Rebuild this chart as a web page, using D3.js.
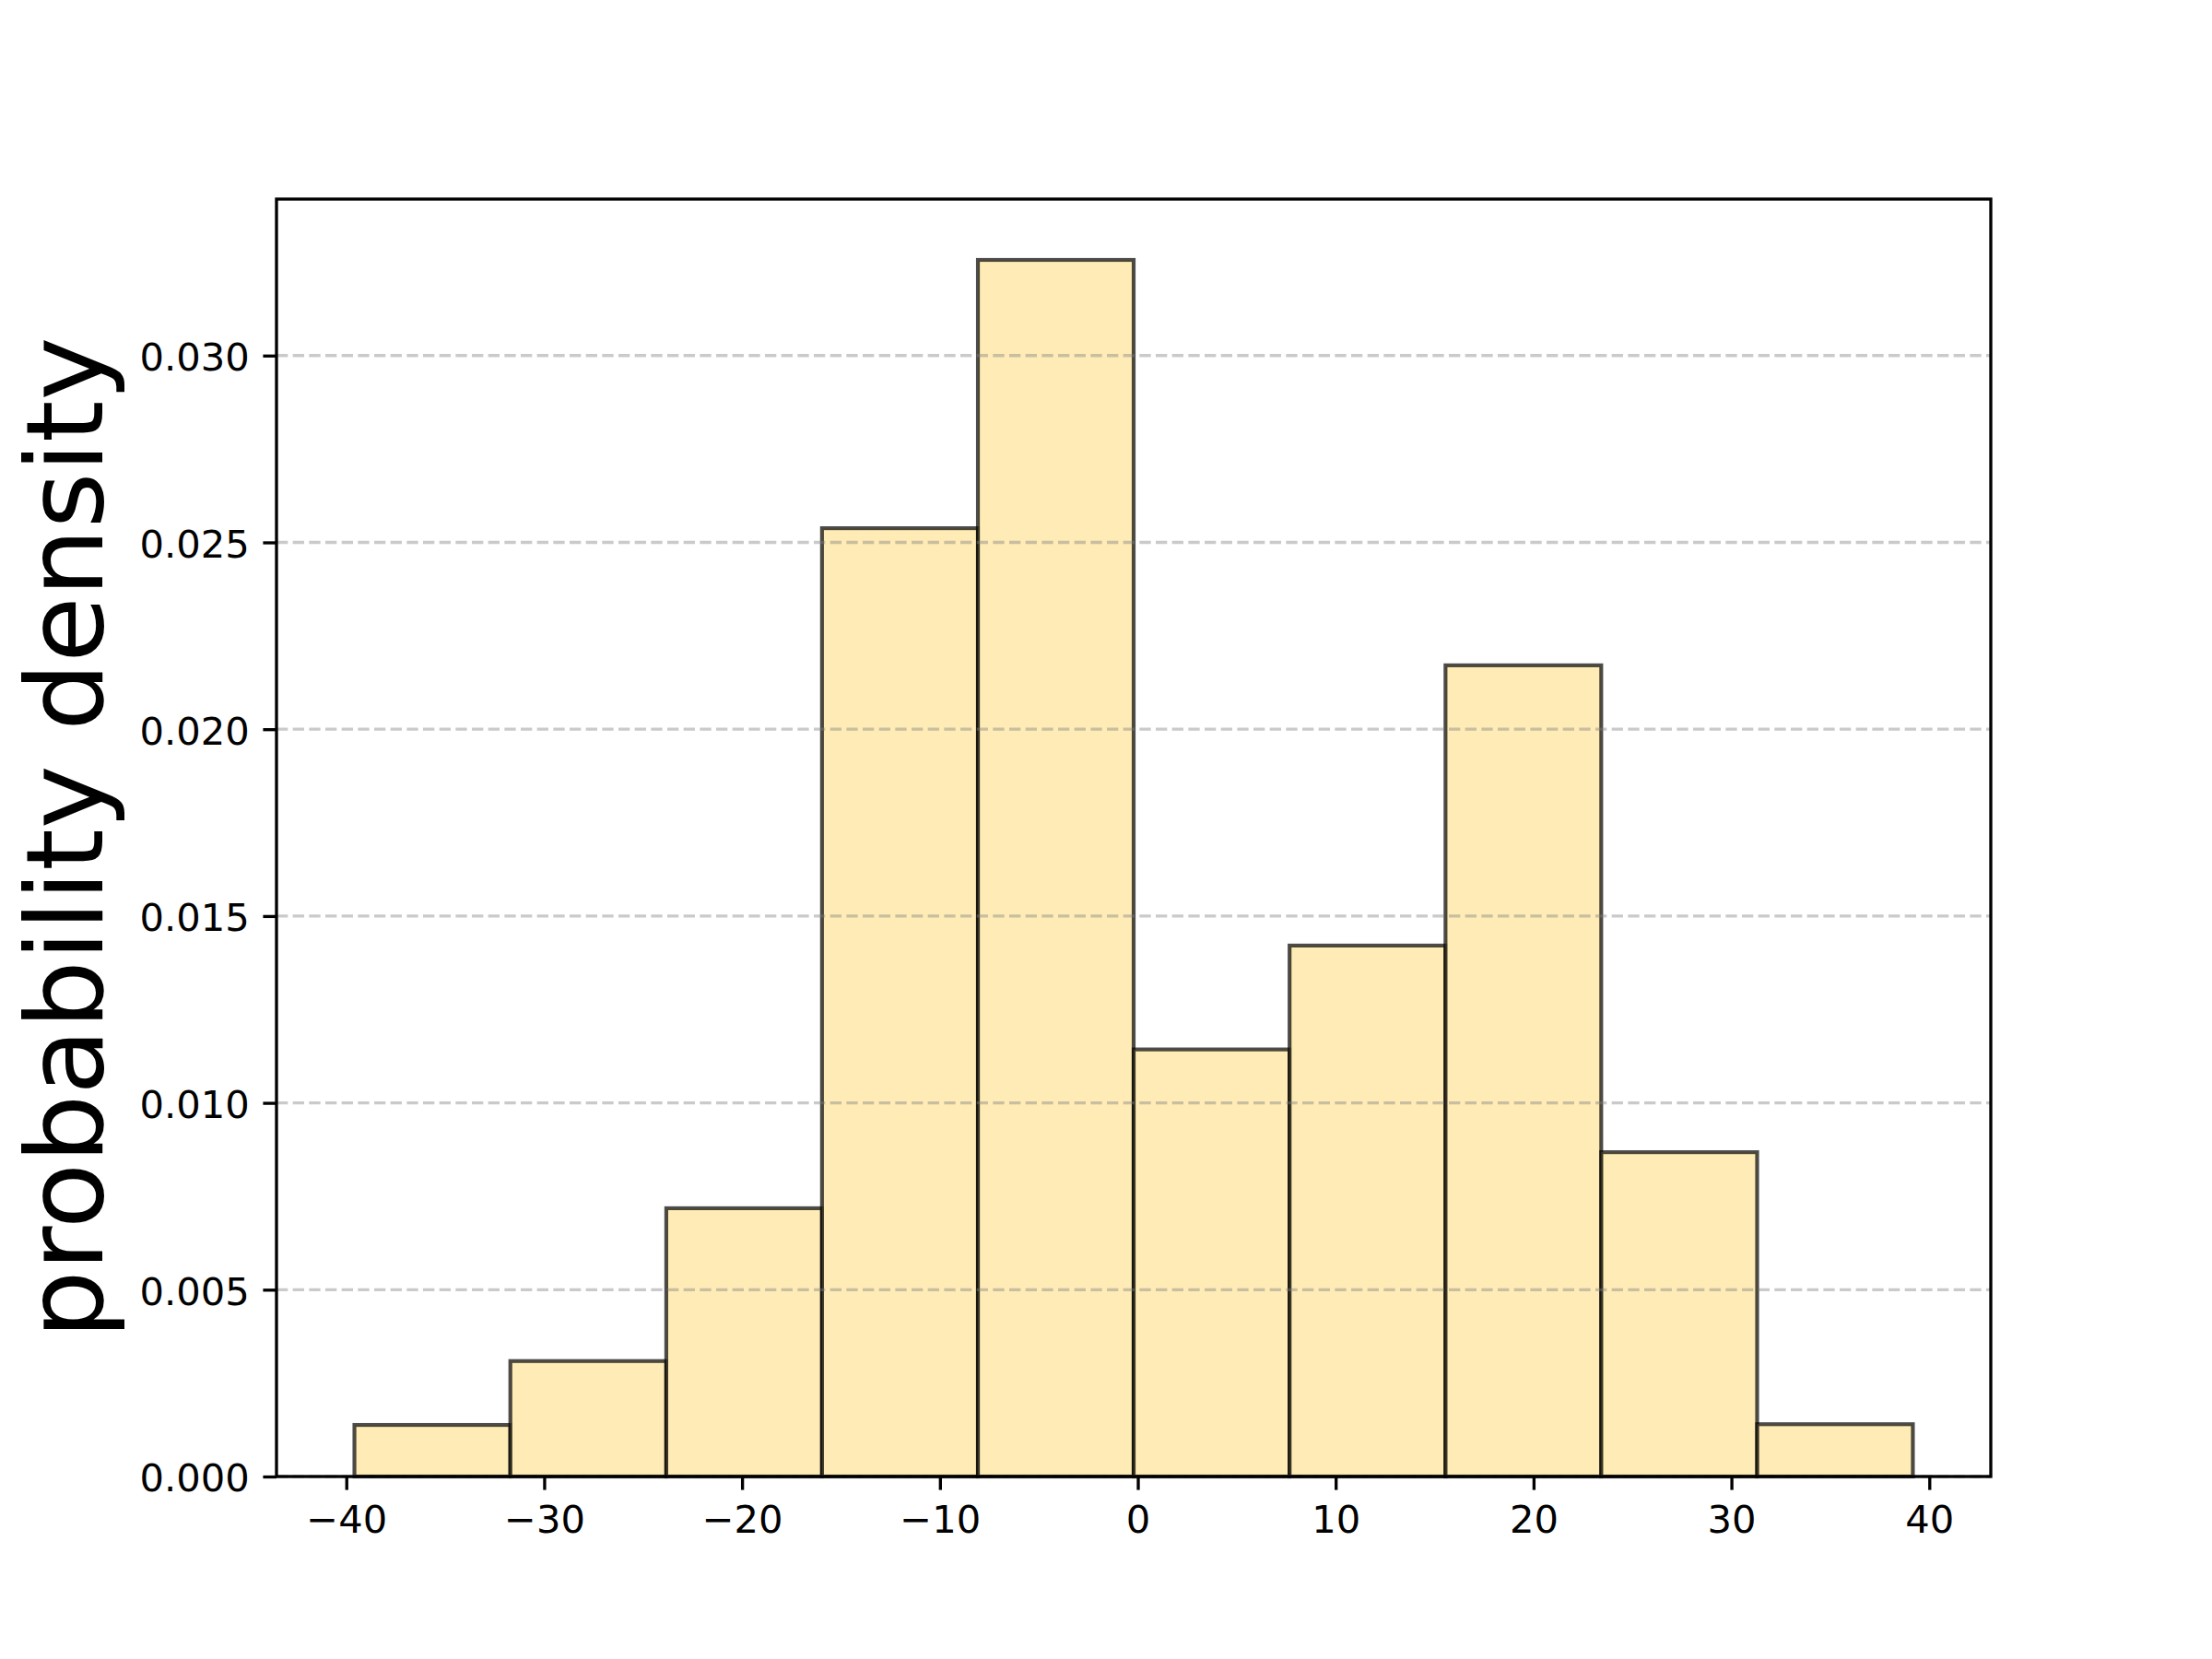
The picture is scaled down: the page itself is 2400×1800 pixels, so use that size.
<!DOCTYPE html>
<html>
<head>
<meta charset="utf-8">
<script src="https://cdn.jsdelivr.net/npm/d3@7"></script>
<style>
  body { margin: 0; background: #fff; }
  text { font-family: 'DejaVu Sans', sans-serif; }
</style>
</head>
<body>
<svg id="chart"></svg>
<script>
const width = 2400;
const height = 1800;

// histogram bins (edges) and densities
const binEdges = [-39.59, -31.71, -23.83, -15.96, -8.08, -0.21, 7.67, 15.55, 23.42, 31.30, 39.17];
const densities = [0.00138, 0.00309, 0.00718, 0.02538, 0.03256, 0.01143, 0.01421, 0.02171, 0.00868, 0.00140];

const xTicks = [-40, -30, -20, -10, 0, 10, 20, 30, 40];
const yTicks = [0.000, 0.005, 0.010, 0.015, 0.020, 0.025, 0.030];
const yLabel = "probability density";

const margin = { left: 300, right: 2160, top: 216, bottom: 1602 };
const pt = 300 / 72;

const bins = densities.map((d, i) => ({ x0: binEdges[i], x1: binEdges[i + 1], density: d }));

// matplotlib-like 5% margins
const lo = binEdges[0], hi = binEdges[binEdges.length - 1];
const pad = (hi - lo) * 0.05;
const x = d3.scaleLinear().domain([lo - pad, hi + pad]).range([margin.left, margin.right]);
const y = d3.scaleLinear().domain([0, d3.max(densities) * 1.05]).range([margin.bottom, margin.top]);

const svg = d3.select('#chart')
  .attr('width', width)
  .attr('height', height);

svg.append('rect')
  .attr('width', width)
  .attr('height', height)
  .attr('fill', 'white');

// bars
svg.append('g')
  .selectAll('rect')
  .data(bins)
  .enter().append('rect')
    .attr('x', d => x(d.x0))
    .attr('y', d => y(d.density))
    .attr('width', d => x(d.x1) - x(d.x0))
    .attr('height', d => y(0) - y(d.density))
    .attr('fill', '#fee295')
    .attr('fill-opacity', 0.7)
    .attr('stroke', 'black')
    .attr('stroke-opacity', 0.7)
    .attr('stroke-width', 1.0 * pt);

// horizontal dashed grid, above the bars like matplotlib
svg.append('g')
  .selectAll('line')
  .data(yTicks)
  .enter().append('line')
    .attr('x1', margin.left)
    .attr('x2', margin.right)
    .attr('y1', d => y(d))
    .attr('y2', d => y(d))
    .attr('stroke', '#808080')
    .attr('stroke-opacity', 0.42)
    .attr('stroke-width', 0.8 * pt)
    .attr('stroke-dasharray', `${3.7 * 0.8 * pt} ${1.6 * 0.8 * pt}`);

const fmtX = d => d < 0 ? '\u2212' + Math.abs(d) : String(d);

const xAxis = svg.append('g')
  .attr('transform', `translate(0,${margin.bottom})`)
  .call(d3.axisBottom(x).tickValues(xTicks).tickFormat(fmtX).tickSize(3.5 * pt).tickSizeOuter(0));

const yAxis = svg.append('g')
  .attr('transform', `translate(${margin.left},0)`)
  .call(d3.axisLeft(y).tickValues(yTicks).tickFormat(d3.format('.3f')).tickSize(3.5 * pt).tickSizeOuter(0));

[xAxis, yAxis].forEach(g => {
  g.select('.domain').remove();
  g.selectAll('.tick line').attr('stroke', 'black').attr('stroke-width', 0.8 * pt);
  g.selectAll('.tick text')
    .attr('fill', 'black')
    .attr('font-size', 10 * pt)
    .attr('font-family', "'DejaVu Sans', sans-serif");
});

xAxis.selectAll('.tick text').attr('y', 61).attr('dy', null);
yAxis.selectAll('.tick text').attr('x', -7 * pt).attr('dy', '0.38em');

// spines
svg.append('rect')
  .attr('x', margin.left)
  .attr('y', margin.top)
  .attr('width', margin.right - margin.left)
  .attr('height', margin.bottom - margin.top)
  .attr('fill', 'none')
  .attr('stroke', 'black')
  .attr('stroke-width', 0.8 * pt);

// y label
svg.append('text')
  .attr('transform', `translate(111,${(margin.top + margin.bottom) / 2}) rotate(-90)`)
  .attr('text-anchor', 'middle')
  .attr('font-size', 28 * pt)
  .attr('fill', 'black')
  .text(yLabel);
</script>
</body>
</html>
